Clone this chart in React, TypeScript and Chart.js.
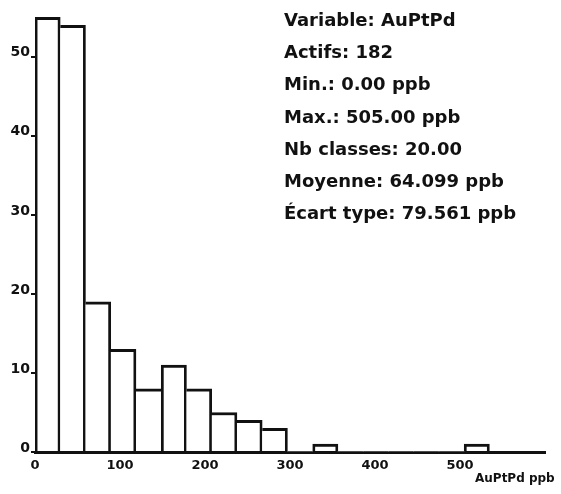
import React, { useEffect, useRef } from "react";
import { Chart, registerables } from "chart.js";

Chart.register(...registerables);

// Histogram classes (start of each class, ppb) and counts
const binStarts = [0, 29.7, 59.4, 89.1, 118.8, 148.5, 178.2, 207.9, 237.6, 267.3, 297, 326.7, 356.4, 386.1, 415.8, 445.5, 475.2, 504.9];
const binWidth = 29.7;
const counts = [55, 54, 19, 13, 8, 11, 8, 5, 4, 3, 0, 1, 0, 0, 0, 0, 0, 1];

const xTickValues = [0, 100, 200, 300, 400, 500];
const yTickValues = [0, 10, 20, 30, 40, 50];

const statsLines = [
  "Variable: AuPtPd",
  "Actifs: 182",
  "Min.: 0.00 ppb",
  "Max.: 505.00 ppb",
  "Nb classes: 20.00",
  "Moyenne: 64.099 ppb",
  "Écart type: 79.561 ppb",
];
const axisTitle = "AuPtPd ppb";

const INK = "#111111";

const textPlugin = {
  id: "statsText",
  afterDraw(chart: any) {
    const ctx = chart.ctx;
    ctx.save();
    ctx.fillStyle = INK;
    ctx.textBaseline = "middle";
    ctx.textAlign = "left";
    ctx.font = 'bold 18px "DejaVu Sans"';
    statsLines.forEach((t, i) => ctx.fillText(t, 284, 21 + i * 32.3));
    ctx.font = 'bold 12px "DejaVu Sans"';
    ctx.fillText(axisTitle, 475, 479);
    ctx.restore();
  },
};

export default function App() {
  const ref = useRef<HTMLCanvasElement | null>(null);

  useEffect(() => {
    document.body.style.margin = "0";
    document.body.style.background = "#ffffff";
    const canvas = ref.current;
    if (!canvas) return;
    const data = counts.map((c, i) => ({ x: binStarts[i] + binWidth / 2, y: c }));
    const chart = new Chart(canvas, {
      type: "bar",
      data: {
        datasets: [
          {
            data: data as any,
            backgroundColor: "#ffffff",
            borderColor: INK,
            borderSkipped: "start",
            borderWidth: ((ctx: any) => {
              const i = ctx.dataIndex;
              const cur = counts[i];
              if (!cur) return 0;
              const prev = i > 0 ? counts[i - 1] : 0;
              const next = i + 1 < counts.length ? counts[i + 1] : 0;
              return {
                top: 3,
                left: prev >= cur ? 0 : 2.8,
                right: next > cur ? 0 : 2.8,
                bottom: 0,
              };
            }) as any,
            barPercentage: 1,
            categoryPercentage: 1,
          },
        ],
      },
      options: {
        responsive: false,
        animation: false,
        devicePixelRatio: 1,
        layout: { padding: { top: 3, right: 16, left: 0, bottom: 0 } },
        plugins: {
          legend: { display: false },
          tooltip: { enabled: false },
        },
        scales: {
          x: {
            type: "linear",
            min: 0,
            max: 600,
            offset: false,
            grid: { display: false, offset: false },
            border: { display: true, color: INK, width: 3 },
            ticks: {
              stepSize: 100,
              color: INK,
              font: { family: "DejaVu Sans", weight: "bold", size: 13 },
              padding: -2,
              maxRotation: 0,
              autoSkip: false,
            },
            afterBuildTicks: (s: any) => {
              s.ticks = xTickValues.map((v) => ({ value: v }));
            },
            afterFit: (s: any) => {
              s.height = 42;
            },
          },
          y: {
            type: "linear",
            min: 0,
            max: 56,
            grid: {
              display: true,
              drawOnChartArea: false,
              drawTicks: true,
              tickLength: 4,
              color: INK,
              lineWidth: 2,
            },
            border: { display: false },
            ticks: {
              stepSize: 10,
              color: INK,
              font: { family: "DejaVu Sans", weight: "bold", size: 14 },
              padding: 1,
              labelOffset: -4,
            },
            afterBuildTicks: (s: any) => {
              s.ticks = yTickValues.map((v) => ({ value: v }));
            },
            afterFit: (s: any) => {
              s.width = 35;
            },
          },
        },
      },
      plugins: [textPlugin],
    });
    return () => chart.destroy();
  }, []);

  return (
    <div style={{ position: "absolute", left: 0, top: 0, width: 561, height: 494, background: "#fff" }}>
      <canvas ref={ref} width={561} height={494} style={{ display: "block" }} />
    </div>
  );
}
